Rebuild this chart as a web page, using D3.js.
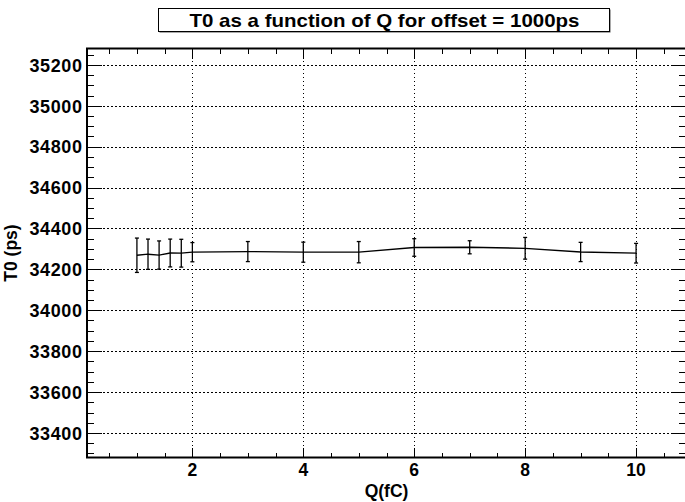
<!DOCTYPE html>
<html lang="en">
<head>
<meta charset="utf-8">
<style>
  body { margin: 0; background: white; }
  svg { font-family: "Liberation Sans", Arial, sans-serif; font-weight: bold; }
</style>
</head>
<body>
<script src="https://d3js.org/d3.v7.min.js"></script>
<script>
// data
var charge = [1, 1.2, 1.4, 1.6, 1.8, 2, 3, 4, 5, 6, 7, 8, 9, 10];
var t0 = [34269, 34274, 34270, 34280, 34279, 34284, 34287, 34284, 34284, 34307, 34308, 34303, 34285, 34279];
var t0Err = [84, 74, 69, 68, 68, 47, 49, 49, 52, 43, 32, 53, 47, 48];
var xTicks = [2, 4, 6, 8, 10];
var yTicks = [33400, 33600, 33800, 34000, 34200, 34400, 34600, 34800, 35000, 35200];

var W = 685, H = 502;
// frame edges (note: "top" is reserved on window, so use f*)
var fLeft = 87, fRight = 686, fTop = 48.5, fBottom = 457.5;

var svg = d3.select("body").append("svg")
    .attr("width", W).attr("height", H);

svg.append("rect").attr("width", W).attr("height", H).attr("fill", "white");

var x = d3.scaleLinear().domain([0.1, 10.9]).range([fLeft, fRight]);
var y = d3.scaleLinear().domain([33280, 35280]).range([fBottom, fTop]);

// dotted grid
var grid = svg.append("g").attr("stroke", "#000").attr("stroke-width", 1)
    .attr("stroke-dasharray", "1.5,2.5").attr("shape-rendering", "crispEdges");
grid.selectAll(".gx").data(xTicks).enter().append("line")
    .attr("x1", d => Math.round(x(d)) + 0.5).attr("x2", d => Math.round(x(d)) + 0.5)
    .attr("y1", fTop).attr("y2", fBottom);
grid.selectAll(".gy").data(yTicks).enter().append("line")
    .attr("y1", d => Math.round(y(d)) + 0.5).attr("y2", d => Math.round(y(d)) + 0.5)
    .attr("x1", fLeft).attr("x2", fRight);

// ticks on all four sides
var xMinor = d3.range(0.5, 10.9, 0.5);
var yMinor = d3.range(33300, 35280, 50);
var tk = svg.append("g").attr("stroke", "#000").attr("stroke-width", 1).attr("shape-rendering", "crispEdges");
xMinor.forEach(function(v) {
  var len = (v % 2 === 0) ? 10 : 5;
  var px = Math.round(x(v)) + 0.5;
  tk.append("line").attr("x1", px).attr("x2", px).attr("y1", fBottom).attr("y2", fBottom - len);
  tk.append("line").attr("x1", px).attr("x2", px).attr("y1", fTop).attr("y2", fTop + len);
});
yMinor.forEach(function(v) {
  var len = (v % 200 === 0) ? 15 : 7;
  var py = Math.round(y(v)) + 0.5;
  tk.append("line").attr("y1", py).attr("y2", py).attr("x1", fLeft).attr("x2", fLeft + len);
  tk.append("line").attr("y1", py).attr("y2", py).attr("x1", fRight).attr("x2", fRight - len);
});

// frame
svg.append("rect").attr("x", fLeft).attr("y", fTop)
    .attr("width", fRight - fLeft).attr("height", fBottom - fTop)
    .attr("fill", "none").attr("stroke", "#000").attr("stroke-width", 2);

// tick labels
svg.append("g").selectAll("text").data(xTicks).enter().append("text")
    .attr("x", d => x(d)).attr("y", 476)
    .attr("text-anchor", "middle").attr("font-size", "17.5px")
    .text(d => d);
svg.append("g").selectAll("text").data(yTicks).enter().append("text")
    .attr("x", 82.5).attr("y", d => y(d) + 6.8)
    .attr("text-anchor", "end").attr("font-size", "18px")
    .attr("letter-spacing", "0.6px")
    .text(d => d);

// axis titles
svg.append("text").attr("x", (fLeft + fRight) / 2).attr("y", 497)
    .attr("text-anchor", "middle").attr("font-size", "17.5px").text("Q(fC)");
svg.append("text").attr("transform", "translate(17," + ((fTop + fBottom) / 2) + ") rotate(-90)")
    .attr("text-anchor", "middle").attr("font-size", "17.5px").text("T0 (ps)");

// data line and error bars
var pts = charge.map((c, i) => ({ q: c, t: t0[i], e: t0Err[i] }));
svg.append("path").datum(pts)
    .attr("fill", "none").attr("stroke", "#000").attr("stroke-width", 1.3)
    .attr("d", d3.line().x(d => x(d.q)).y(d => y(d.t)));
var eb = svg.append("g").attr("stroke", "#000").attr("stroke-width", 1.3);
pts.forEach(function(d) {
  var px = x(d.q), y1 = y(d.t + d.e), y2 = y(d.t - d.e);
  eb.append("line").attr("x1", px).attr("x2", px).attr("y1", y1).attr("y2", y2);
  eb.append("line").attr("x1", px - 2).attr("x2", px + 2).attr("y1", y1).attr("y2", y1);
  eb.append("line").attr("x1", px - 2).attr("x2", px + 2).attr("y1", y2).attr("y2", y2);
});

// title box
svg.append("rect").attr("x", 159.5).attr("y", 9.5).attr("width", 451).attr("height", 23)
    .attr("fill", "#555");
svg.append("rect").attr("x", 158.5).attr("y", 8.5).attr("width", 451).attr("height", 23)
    .attr("fill", "white").attr("stroke", "#000").attr("stroke-width", 1);
svg.append("text").attr("x", 384.5).attr("y", 26.5)
    .attr("text-anchor", "middle").attr("font-size", "19px")
    .attr("textLength", 390).attr("lengthAdjust", "spacingAndGlyphs")
    .text("T0 as a function of Q for offset = 1000ps");
</script>
</body>
</html>
